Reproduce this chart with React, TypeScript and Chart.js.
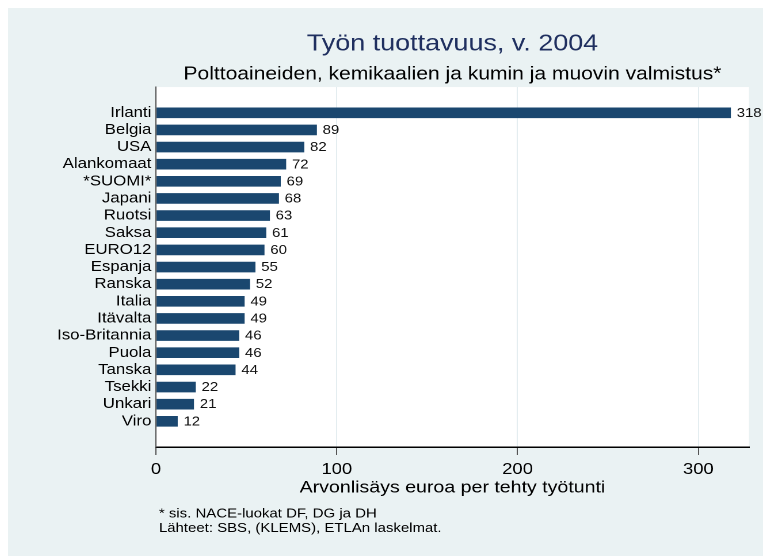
import React, { useEffect, useRef } from 'react';
import { Chart, registerables } from 'chart.js';

Chart.register(...registerables);

const categories = ['Irlanti', 'Belgia', 'USA', 'Alankomaat', '*SUOMI*', 'Japani', 'Ruotsi', 'Saksa', 'EURO12', 'Espanja', 'Ranska', 'Italia', 'Itävalta', 'Iso-Britannia', 'Puola', 'Tanska', 'Tsekki', 'Unkari', 'Viro'];
const values = [318, 89, 82, 72, 69, 68, 63, 61, 60, 55, 52, 49, 49, 46, 46, 44, 22, 21, 12];
const xTicks = [0, 100, 200, 300];
const xMax = 328;
const titleText = 'Työn tuottavuus, v. 2004';
const subtitleText = 'Polttoaineiden, kemikaalien ja kumin ja muovin valmistus*';
const axisTitleText = 'Arvonlisäys euroa per tehty työtunti';
const notes = ['* sis. NACE-luokat DF, DG ja DH', 'Lähteet: SBS, (KLEMS), ETLAn laskelmat.'];

const FAMILY = '"Liberation Sans", Arial, Helvetica, sans-serif';
const STRETCH = 755 / 656;
const BG = '#eaf2f3';

const bgPlugin = {
  id: 'bgPlugin',
  beforeDraw(chart: any) {
    const { ctx, chartArea: a, width, height } = chart;
    ctx.save();
    ctx.fillStyle = BG;
    ctx.fillRect(0, 0, width, height);
    ctx.fillStyle = '#ffffff';
    ctx.fillRect(a.left, a.top, a.right - a.left, a.bottom - a.top);
    ctx.restore();
  },
};

const valueLabelPlugin = {
  id: 'valueLabelPlugin',
  afterDatasetsDraw(chart: any) {
    const { ctx } = chart;
    const meta = chart.getDatasetMeta(0);
    const data = chart.data.datasets[0].data;
    ctx.save();
    ctx.font = `13px ${FAMILY}`;
    ctx.fillStyle = '#111';
    ctx.textAlign = 'left';
    ctx.textBaseline = 'middle';
    meta.data.forEach((el: any, i: number) => {
      const v = data[i];
      if (v === null || v === undefined) return;
      ctx.fillText(String(v), el.x + 5, el.y + 0.5);
    });
    ctx.restore();
  },
};

const notesPlugin = {
  id: 'notesPlugin',
  afterDraw(chart: any) {
    const { ctx, chartArea } = chart;
    ctx.save();
    ctx.font = `13px ${FAMILY}`;
    ctx.fillStyle = '#000';
    ctx.textAlign = 'left';
    ctx.textBaseline = 'middle';
    notes.forEach((t, i) => {
      ctx.fillText(t, chartArea.left + 2.5, 506 + i * 14.5);
    });
    ctx.restore();
  },
};

export default function App() {
  const ref = useRef<HTMLCanvasElement | null>(null);

  useEffect(() => {
    if (!ref.current) return;
    const labels = ['', ...categories, ''];
    const data = [null, ...values, null];
    const chart = new Chart(ref.current, {
      type: 'bar',
      data: {
        labels,
        datasets: [
          {
            data,
            backgroundColor: '#1a476f',
            borderWidth: 0,
            barPercentage: 0.62,
            categoryPercentage: 1,
          },
        ],
      },
      options: {
        indexAxis: 'y',
        animation: false,
        responsive: true,
        maintainAspectRatio: false,
        devicePixelRatio: 2,
        layout: { padding: { left: 0, right: 12.2, top: 0, bottom: 58 } },
        plugins: {
          legend: { display: false },
          tooltip: { enabled: false },
          title: {
            display: true,
            text: titleText,
            fullSize: false,
            color: '#1f2f5f',
            font: { family: FAMILY, size: 23.4, weight: 'normal' },
            padding: { top: 22, bottom: 0 },
          },
          subtitle: {
            display: true,
            text: subtitleText,
            fullSize: false,
            color: '#000',
            font: { family: FAMILY, size: 18.3, weight: 'normal' },
            padding: { top: 5.5, bottom: 1.5 },
          },
        },
        scales: {
          x: {
            type: 'linear',
            min: 0,
            max: xMax,
            afterBuildTicks(scale: any) {
              scale.ticks = xTicks.map((v) => ({ value: v }));
            },
            afterFit(scale: any) {
              scale.height = 51;
            },
            grid: {
              color: '#e4edf0',
              lineWidth: 1,
              tickLength: 8,
              tickColor: '#555',
              drawOnChartArea: true,
            },
            border: { display: true, color: '#000', width: 1.5 },
            ticks: {
              color: '#000',
              padding: 5,
              font: { family: FAMILY, size: 16 },
            },
            title: {
              display: true,
              text: axisTitleText,
              color: '#000',
              font: { family: FAMILY, size: 17 },
              padding: { top: 0, bottom: 0 },
            },
          },
          y: {
            type: 'category',
            afterFit(scale: any) {
              scale.width = 128.6;
            },
            grid: { display: false, drawTicks: false },
            border: { display: true, color: '#555', width: 1 },
            ticks: {
              autoSkip: false,
              color: '#000',
              padding: 4,
              font: { family: FAMILY, size: 14.6 },
            },
          },
        },
      },
      plugins: [bgPlugin, valueLabelPlugin, notesPlugin],
    } as any);
    return () => chart.destroy();
  }, []);

  return (
    <div style={{ position: 'fixed', left: 8, top: 8, right: 0, bottom: 0, background: BG, overflow: 'hidden' }}>
      <div
        style={{
          width: 656,
          height: 548,
          transform: `scaleX(${STRETCH})`,
          transformOrigin: '0 0',
          position: 'relative',
        }}
      >
        <canvas ref={ref} />
      </div>
    </div>
  );
}
